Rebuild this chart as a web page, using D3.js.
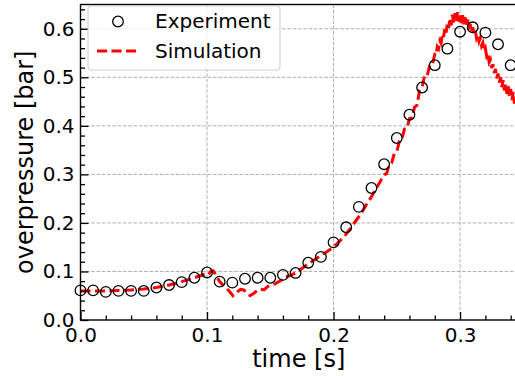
<!DOCTYPE html>
<html>
<head>
<meta charset="utf-8">
<script src="https://cdn.jsdelivr.net/npm/d3@7"></script>
<style>
  html, body { margin: 0; padding: 0; background: #fff; }
  svg text { font-family: "DejaVu Sans", sans-serif; fill: #000; }
</style>
</head>
<body>
<svg id="chart" width="515" height="376"></svg>
<script>
// Measured overpressure (every 10 ms)
const expTime = [0.00,0.01,0.02,0.03,0.04,0.05,0.06,0.07,0.08,0.09,0.10,0.11,0.12,0.13,0.14,0.15,0.16,0.17,
  0.18,0.19,0.20,0.21,0.22,0.23,0.24,0.25,0.26,0.27,0.28,0.29,0.30,0.31,0.32,0.33,0.34];
const expPressure = [0.061,0.061,0.058,0.060,0.060,0.060,0.067,0.072,0.078,0.087,0.098,0.079,0.077,0.085,0.087,0.087,0.093,0.097,
  0.118,0.130,0.160,0.191,0.233,0.272,0.321,0.375,0.423,0.479,0.525,0.559,0.594,0.603,0.592,0.568,0.525];

// Simulated overpressure
const simTime = [0.000,0.010,0.020,0.030,0.040,0.050,0.060,0.070,0.080,0.090,0.098,0.101,0.103,0.105,0.108,0.110,0.114,0.117,
  0.1205,0.1235,0.1265,0.129,0.1315,0.134,0.1365,0.138,0.140,0.142,0.145,0.148,0.150,0.154,0.158,0.162,0.166,0.170,
  0.175,0.180,0.185,0.190,0.195,0.200,0.205,0.209,0.2135,0.2175,0.2215,0.2255,0.2295,0.2335,0.2375,
  0.240,0.242,0.244,0.246,0.248,0.250,0.252,0.254,0.256,0.258,0.260,0.262,0.264,0.266,0.268,0.270,0.272,0.274,0.276,0.278,
  0.280,0.281,0.282,0.283,0.284,0.285,0.286,0.287,0.288,0.289,0.290,0.291,0.292,0.293,0.294,0.295,0.296,0.297,0.298,0.299,
  0.300,0.301,0.302,0.303,0.304,0.305,0.306,0.307,0.308,0.309,0.310,0.311,0.312,0.313,0.314,0.315,0.316,0.317,0.318,0.319,
  0.320,0.321,0.322,0.323,0.324,0.325,0.326,0.327,0.328,0.329,0.330,0.331,0.332,0.333,0.334,0.335,0.336,0.337,0.338,0.339,
  0.340,0.341,0.342,0.343,0.344,0.345,0.346];
const simPressure = [0.060,0.060,0.060,0.061,0.062,0.064,0.067,0.072,0.079,0.087,0.094,0.093,0.100,0.101,0.088,0.079,0.068,0.061,
  0.050,0.057,0.063,0.062,0.056,0.050,0.054,0.057,0.062,0.064,0.062,0.069,0.071,0.075,0.081,0.088,0.092,0.097,
  0.106,0.116,0.124,0.133,0.141,0.150,0.163,0.174,0.189,0.204,0.218,0.236,0.252,0.270,0.288,
  0.299,0.302,0.320,0.324,0.343,0.347,0.368,0.372,0.393,0.395,0.415,0.417,0.438,0.443,0.473,0.479,0.504,0.503,0.524,0.525,
  0.547,0.545,0.563,0.559,0.575,0.570,0.590,0.583,0.602,0.592,0.613,0.602,0.622,0.607,0.629,0.613,0.632,0.614,0.634,0.615,
  0.632,0.612,0.628,0.608,0.624,0.605,0.619,0.599,0.610,0.594,0.603,0.588,0.596,0.581,0.588,0.574,0.581,0.565,0.571,0.554,
  0.560,0.544,0.549,0.531,0.536,0.519,0.527,0.509,0.517,0.498,0.508,0.489,0.500,0.480,0.494,0.473,0.487,0.466,0.482,0.460,
  0.476,0.453,0.470,0.446,0.462,0.441,0.454];

const xMajor = [0.0, 0.1, 0.2, 0.3];
const yMajor = [0.0, 0.1, 0.2, 0.3, 0.4, 0.5, 0.6];
const xLabel = "time [s]";
const yLabel = "overpressure [bar]";
const seriesNames = ["Experiment", "Simulation"];

const svg = d3.select("#chart");
const m = { left: 80.5, top: 4.5, right: 517, bottom: 320 };

const x = d3.scaleLinear().domain([0, 0.345]).range([m.left, m.right]);
const y = d3.scaleLinear().domain([0, 0.65]).range([m.bottom, m.top]);

svg.append("rect").attr("width", 515).attr("height", 376).attr("fill", "#fff");

// grid
const grid = svg.append("g").attr("stroke", "#b0b0b0").attr("stroke-width", 1).attr("stroke-dasharray", "3.7,1.6");
grid.selectAll(".gx").data(xMajor.filter(d => d > 0)).join("line")
  .attr("x1", d => x(d)).attr("x2", d => x(d)).attr("y1", m.top).attr("y2", m.bottom);
grid.selectAll(".gy").data(yMajor.filter(d => d > 0)).join("line")
  .attr("y1", d => y(d)).attr("y2", d => y(d)).attr("x1", m.left).attr("x2", m.right);

// minor tick values
const xMinor = d3.range(0, 35).map(i => i * 0.02).filter(v => v <= 0.345 && xMajor.every(t => Math.abs(t - v) > 1e-9));
const yMinor = d3.range(0, 33).map(i => i * 0.02).filter(v => v <= 0.65 && yMajor.every(t => Math.abs(t - v) > 1e-9));

// simulation line
const clipId = "plotclip";
svg.append("clipPath").attr("id", clipId).append("rect")
  .attr("x", m.left).attr("y", m.top).attr("width", m.right - m.left).attr("height", m.bottom - m.top);

const line = d3.line().x((d, i) => x(simTime[i])).y((d, i) => y(simPressure[i]));
svg.append("path")
  .attr("clip-path", `url(#${clipId})`)
  .attr("d", line(simPressure))
  .attr("fill", "none").attr("stroke", "#ff0000").attr("stroke-width", 3)
  .attr("stroke-dasharray", "10,4.5");

// experiment markers
svg.append("g").selectAll("circle").data(expPressure).join("circle")
  .attr("cx", (d, i) => x(expTime[i])).attr("cy", d => y(d)).attr("r", 5.3)
  .attr("fill", "none").attr("stroke", "#000").attr("stroke-width", 1.3);

// axes
const fmt = d3.format(".1f");
const gx = svg.append("g").attr("transform", `translate(0,${m.bottom})`)
  .call(d3.axisBottom(x).tickValues(xMajor).tickFormat(fmt).tickSize(-8).tickPadding(8));
const gxm = svg.append("g").attr("transform", `translate(0,${m.bottom})`)
  .call(d3.axisBottom(x).tickValues(xMinor).tickFormat("").tickSize(-4.5));
const gy = svg.append("g").attr("transform", `translate(${m.left},0)`)
  .call(d3.axisLeft(y).tickValues(yMajor).tickFormat(fmt).tickSize(-8).tickPadding(6));
const gym = svg.append("g").attr("transform", `translate(${m.left},0)`)
  .call(d3.axisLeft(y).tickValues(yMinor).tickFormat("").tickSize(-4.5));
[gx, gxm, gy, gym].forEach(g => {
  g.select(".domain").remove();
  g.selectAll(".tick line").attr("stroke", "#000").attr("stroke-width", 1.3);
  g.selectAll("text").attr("font-size", 20).attr("font-family", "DejaVu Sans").attr("fill", "#000");
});

// spines
svg.append("rect").attr("x", m.left).attr("y", m.top).attr("width", m.right - m.left).attr("height", m.bottom - m.top)
  .attr("fill", "none").attr("stroke", "#000").attr("stroke-width", 1.4);

// axis labels
svg.append("text").attr("x", (m.left + m.right) / 2).attr("y", 367).attr("text-anchor", "middle")
  .attr("font-size", 24).text(xLabel);
svg.append("text").attr("transform", `translate(33,${(m.top + m.bottom) / 2}) rotate(-90)`)
  .attr("text-anchor", "middle").attr("font-size", 24).text(yLabel);

// legend
const lg = svg.append("g");
lg.append("rect").attr("x", 88).attr("y", 6).attr("width", 192).attr("height", 64).attr("rx", 3)
  .attr("fill", "#fff").attr("fill-opacity", 0.8).attr("stroke", "#cccccc").attr("stroke-width", 1);
lg.append("circle").attr("cx", 118).attr("cy", 21.5).attr("r", 5.3)
  .attr("fill", "none").attr("stroke", "#000").attr("stroke-width", 1.3);
lg.append("line").attr("x1", 97).attr("x2", 139).attr("y1", 51).attr("y2", 51)
  .attr("stroke", "#ff0000").attr("stroke-width", 3).attr("stroke-dasharray", "10,4.5");
lg.append("text").attr("x", 155).attr("y", 28).attr("font-size", 20).text(seriesNames[0]);
lg.append("text").attr("x", 155).attr("y", 58).attr("font-size", 20).text(seriesNames[1]);
</script>
</body>
</html>
